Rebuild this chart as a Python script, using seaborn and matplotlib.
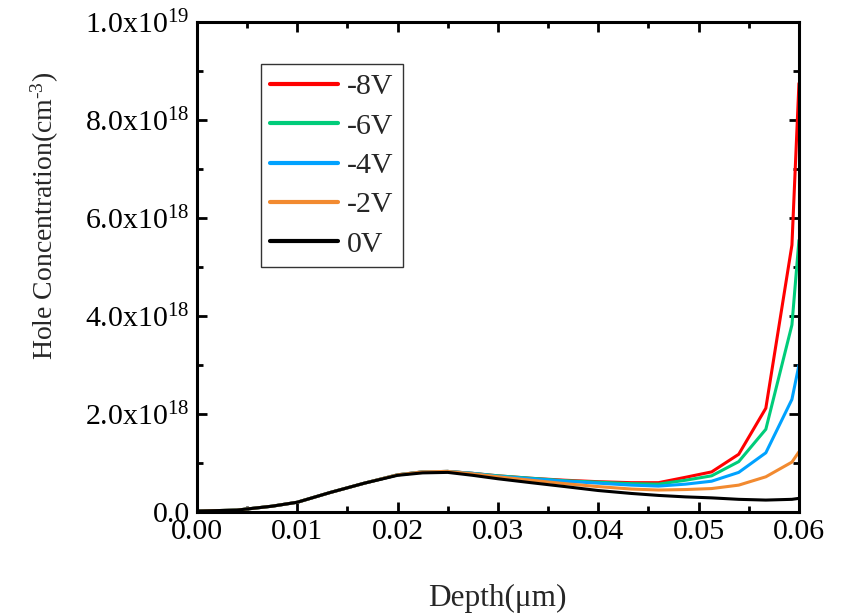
import numpy as np
import pandas as pd
import seaborn as sns
import matplotlib
matplotlib.use("Agg")
import matplotlib.pyplot as plt
from matplotlib.ticker import FixedLocator, MultipleLocator, FuncFormatter

# Depth grid (um)
depth = [0.0, 0.004, 0.0075, 0.010, 0.0133, 0.0167, 0.020, 0.0225, 0.025,
         0.0275, 0.030, 0.0333, 0.0367, 0.040, 0.0433, 0.046, 0.0487,
         0.0513, 0.054, 0.0567, 0.0593, 0.060]

# Hole concentration (cm^-3) for each bias
hole_m8V = [2e16, 4e16, 1.2e17, 2.0e17, 4.0e17, 5.9e17, 7.6e17, 8.2e17, 8.3e17,
            7.9e17, 7.4e17, 6.9e17, 6.5e17, 6.2e17, 6.0e17, 6.0e17, 7.1e17,
            8.2e17, 1.18e18, 2.12e18, 5.45e18, 8.75e18]
hole_m6V = [2e16, 4e16, 1.2e17, 2.0e17, 4.0e17, 5.9e17, 7.6e17, 8.2e17, 8.3e17,
            7.9e17, 7.4e17, 6.9e17, 6.4e17, 6.1e17, 5.8e17, 5.7e17, 6.5e17,
            7.4e17, 1.03e18, 1.69e18, 3.82e18, 5.55e18]
hole_m4V = [2e16, 4e16, 1.2e17, 2.0e17, 4.0e17, 5.9e17, 7.6e17, 8.2e17, 8.3e17,
            7.9e17, 7.3e17, 6.8e17, 6.3e17, 5.9e17, 5.5e17, 5.3e17, 5.7e17,
            6.3e17, 8.1e17, 1.21e18, 2.30e18, 3.0e18]
hole_m2V = [2e16, 4e16, 1.2e17, 2.0e17, 4.0e17, 5.9e17, 7.6e17, 8.2e17, 8.3e17,
            7.8e17, 7.2e17, 6.5e17, 5.8e17, 5.2e17, 4.7e17, 4.5e17, 4.6e17,
            4.8e17, 5.5e17, 7.2e17, 1.02e18, 1.23e18]
hole_0V = [2e16, 4e16, 1.2e17, 2.0e17, 4.0e17, 5.9e17, 7.5e17, 8.0e17, 8.1e17,
           7.5e17, 6.8e17, 6.0e17, 5.2e17, 4.4e17, 3.8e17, 3.4e17, 3.1e17,
           2.9e17, 2.6e17, 2.45e17, 2.6e17, 2.8e17]

bias_labels = ["-8V", "-6V", "-4V", "-2V", "0V"]
bias_colors = ["#ff0000", "#00cc7a", "#00a2ff", "#f28a30", "#000000"]

x_ticks = [0.00, 0.01, 0.02, 0.03, 0.04, 0.05, 0.06]
y_ticks = [0.0, 2e18, 4e18, 6e18, 8e18, 1e19]

series = [hole_m8V, hole_m6V, hole_m4V, hole_m2V, hole_0V]
df = pd.concat(
    [pd.DataFrame({"Depth": depth, "Hole": vals, "Bias": lab})
     for lab, vals in zip(bias_labels, series)],
    ignore_index=True)

sns.set_style("ticks")
plt.rcParams["font.family"] = ["Liberation Serif", "DejaVu Serif"]
plt.rcParams["mathtext.fontset"] = "custom"
plt.rcParams["mathtext.rm"] = "Liberation Serif"
plt.rcParams["mathtext.it"] = "Liberation Serif:italic"
plt.rcParams["mathtext.bf"] = "Liberation Serif:bold"

fig = plt.figure(figsize=(8.41, 6.14), dpi=100)
ax = fig.add_axes([0.234, 0.166, 0.716, 0.798])

sns.lineplot(data=df, x="Depth", y="Hole", hue="Bias", hue_order=bias_labels,
             palette=dict(zip(bias_labels, bias_colors)), linewidth=2.2,
             ax=ax, legend=True)

ax.set_xlim(0, 0.06)
ax.set_ylim(0, 1e19)


def sci_fmt(v, pos):
    if v == 0:
        return "0.0"
    exp = int(np.floor(np.log10(v)))
    mant = v / 10 ** exp
    return r"%.1fx10$^{%d}$" % (mant, exp)


ax.xaxis.set_major_locator(FixedLocator(x_ticks))
ax.xaxis.set_minor_locator(MultipleLocator(0.005))
ax.xaxis.set_major_formatter(FuncFormatter(lambda v, p: "%.2f" % v))
ax.yaxis.set_major_locator(FixedLocator(y_ticks))
ax.yaxis.set_minor_locator(MultipleLocator(1e18))
ax.yaxis.set_major_formatter(FuncFormatter(sci_fmt))

ax.tick_params(which="both", direction="in", top=True, right=True,
               width=2, labelsize=21.5, colors="black")
ax.tick_params(which="major", length=7, pad=5)
ax.tick_params(which="minor", length=4)
for sp in ax.spines.values():
    sp.set_linewidth(2.2)
    sp.set_color("black")

ax.set_xlabel("Depth(μm)", fontsize=22.5, labelpad=28)
ax.set_ylabel("Hole Concentration(cm$^{‐3}$)", fontsize=20)
ax.yaxis.set_label_coords(-0.226, 0.604)

handles, labels = ax.get_legend_handles_labels()
leg = ax.legend(handles, labels, loc="upper left",
                bbox_to_anchor=(0.106, 0.914), borderaxespad=0,
                fontsize=21.5, frameon=True, fancybox=False, handlelength=2.3,
                handletextpad=0.3, labelspacing=0.42, borderpad=0.3)
leg.get_frame().set_edgecolor("black")
leg.get_frame().set_linewidth(1.0)
for ln in leg.get_lines():
    ln.set_linewidth(3)

fig.savefig("out.png", dpi=100)
